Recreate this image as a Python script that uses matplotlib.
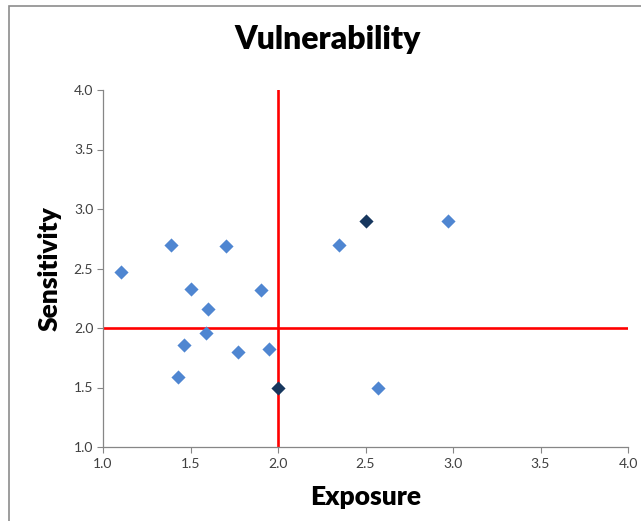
import matplotlib
matplotlib.use('Agg')
import matplotlib.pyplot as plt
from matplotlib.patches import Rectangle

plt.rcParams['font.family'] = ['Lato', 'DejaVu Sans']

# ---- data ---------------------------------------------------------------
exposure = [1.10, 1.39, 1.70, 1.50, 1.60, 1.90, 1.59, 1.46, 1.77, 1.95,
            1.43, 2.35, 2.97, 2.57]
sensitivity = [2.47, 2.70, 2.69, 2.33, 2.16, 2.32, 1.96, 1.86, 1.80, 1.82,
               1.59, 2.70, 2.90, 1.50]

# highlighted points (dark)
exposure_hi = [2.50, 2.00]
sensitivity_hi = [2.90, 1.50]

x_cut = 2.0
y_cut = 2.0
ticks = [1.0, 1.5, 2.0, 2.5, 3.0, 3.5, 4.0]

LIGHT = '#4F86D1'
DARK = '#17375E'
AXIS_GREY = '#868686'

fig = plt.figure(figsize=(6.41, 5.21), dpi=100)
ax = fig.add_axes([103 / 641, 1 - 447 / 521, 525 / 641, 357 / 521])

ax.axvline(x_cut, color='#FF0000', linewidth=1.9, zorder=2)
ax.axhline(y_cut, color='#FF0000', linewidth=1.9, zorder=2)

ax.scatter(exposure, sensitivity, marker='D', s=52, color=LIGHT,
           linewidths=0, zorder=3)
ax.scatter(exposure_hi, sensitivity_hi, marker='D', s=52, color=DARK,
           linewidths=0, zorder=4)

ax.set_xlim(1.0, 4.0)
ax.set_ylim(1.0, 4.0)
ax.set_xticks(ticks)
ax.set_yticks(ticks)
ax.set_xticklabels([f'{t:.1f}' for t in ticks])
ax.set_yticklabels([f'{t:.1f}' for t in ticks])
ax.tick_params(axis='both', direction='out', length=4, width=0.8,
               color=AXIS_GREY, labelsize=10, labelcolor='#404040')
ax.tick_params(axis='x', pad=4)
ax.tick_params(axis='y', pad=3)

for side in ['top', 'right']:
    ax.spines[side].set_visible(False)
for side in ['left', 'bottom']:
    ax.spines[side].set_color(AXIS_GREY)
    ax.spines[side].set_linewidth(0.9)

ax.set_xlabel('Exposure', fontsize=19, fontweight='heavy', labelpad=11)
ax.set_ylabel('Sensitivity', fontsize=19, fontweight='heavy', labelpad=9)

fig.text(328 / 641, 1 - 40 / 521, 'Vulnerability', ha='center', va='center',
         fontsize=23, fontweight='heavy')

# chart frame (clipped at the right and bottom)
fig.patches.append(Rectangle((9 / 641, -0.05), 1.0, 1 - 6 / 521 + 0.05,
                             transform=fig.transFigure, fill=False,
                             edgecolor='#8C8C8C', linewidth=1.2))

fig.savefig('out.png', dpi=100)
